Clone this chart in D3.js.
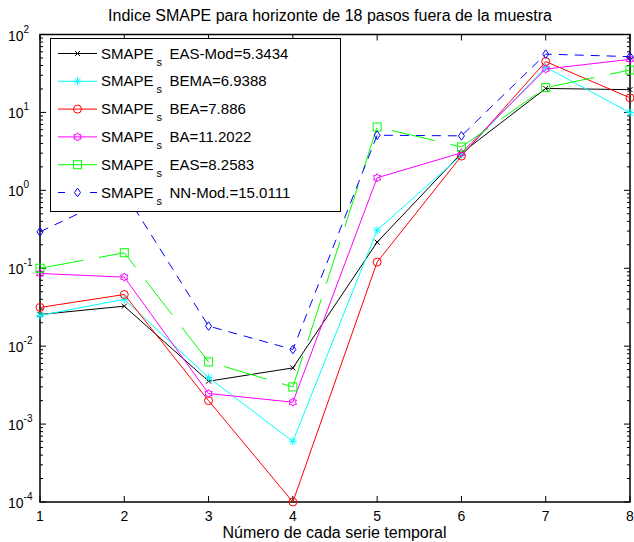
<!DOCTYPE html>
<html>
<head>
<meta charset="utf-8">
<script src="https://cdn.jsdelivr.net/npm/d3@7"></script>
<style>
  body { margin: 0; background: #fff; }
  svg { font-family: "Liberation Sans", Arial, sans-serif; }
</style>
</head>
<body>
<svg width="634" height="542"></svg>
<script>
// series number on the x axis
const series = [1, 2, 3, 4, 5, 6, 7, 8];

// SMAPE values
const easMod = [0.0255, 0.0326, 0.00355, 0.00526, 0.216, 3.0, 20.3, 19.6];
const bema = [0.0248, 0.040, 0.00396, 0.0006, 0.308, 2.83, 38, 9.9];
const bea = [0.0314, 0.046, 0.0020, 0.0001, 0.12, 2.75, 45, 15.4];
const ba = [0.0857, 0.0769, 0.00247, 0.00191, 1.45, 3.03, 36, 48];
const eas = [0.100, 0.158, 0.00628, 0.0030, 6.5, 3.6, 20.8, 35];
const nnMod = [0.294, 0.95, 0.0181, 0.00906, 5.1, 5.0, 56, 52];

const legendNames = ['EAS-Mod=5.3434', 'BEMA=6.9388', 'BEA=7.886', 'BA=11.2022', 'EAS=8.2583', 'NN-Mod.=15.0111'];
const yTicks = [1e-4, 1e-3, 1e-2, 1e-1, 1e0, 1e1, 1e2];

const lines = [
  { name: legendNames[0], values: easMod, color: '#000000', dash: null, marker: 'x' },
  { name: legendNames[1], values: bema, color: '#00ffff', dash: null, marker: 'star' },
  { name: legendNames[2], values: bea, color: '#ff0000', dash: null, marker: 'circle' },
  { name: legendNames[3], values: ba, color: '#ff00ff', dash: null, marker: 'hex' },
  { name: legendNames[4], values: eas, color: '#00ff00', dash: '44,16', marker: 'square' },
  { name: legendNames[5], values: nnMod, color: '#0000ff', dash: '9,7', marker: 'diamond' },
];

const svg = d3.select('svg');
const plotLeft = 40, plotRight = 630, plotTop = 34.5, plotBottom = 502;

const x = d3.scaleLinear().domain([1, 8]).range([plotLeft, plotRight]);
const y = d3.scaleLog().domain([1e-4, 1e2]).range([plotBottom, plotTop]);

// draws one marker centred on (0,0)
const drawMarker = (g, kind, color) => {
  if (kind === 'x') {
    g.append('path').attr('d', 'M-2.5,-2.5L2.5,2.5M-2.5,2.5L2.5,-2.5')
      .attr('stroke', color).attr('stroke-width', 1).attr('fill', 'none');
  } else if (kind === 'star') {
    g.append('path').attr('d', 'M-4,0L4,0M0,-4L0,4M-3,-3L3,3M-3,3L3,-3')
      .attr('stroke', color).attr('stroke-width', 1).attr('fill', 'none');
  } else if (kind === 'circle') {
    g.append('circle').attr('r', 4)
      .attr('stroke', color).attr('stroke-width', 1).attr('fill', 'none');
  } else if (kind === 'hex') {
    const pts = d3.range(12).map((i) => {
      const a = (Math.PI / 6) * i - Math.PI / 2;
      const r = i % 2 === 0 ? 4.2 : 2.6;
      return [r * Math.cos(a), r * Math.sin(a)];
    });
    g.append('polygon').attr('points', pts.map((p) => p.join(',')).join(' '))
      .attr('stroke', color).attr('stroke-width', 1).attr('fill', 'none');
  } else if (kind === 'square') {
    g.append('rect').attr('x', -4).attr('y', -4).attr('width', 8).attr('height', 8)
      .attr('stroke', color).attr('stroke-width', 1).attr('fill', 'none');
  } else if (kind === 'diamond') {
    g.append('path').attr('d', 'M0,-4.3L3,0L0,4.3L-3,0Z')
      .attr('stroke', color).attr('stroke-width', 1).attr('fill', 'none');
  }
};

// title
svg.append('text').attr('x', 330).attr('y', 21).attr('text-anchor', 'middle')
  .attr('font-size', 16).text('Indice SMAPE para horizonte de 18 pasos fuera de la muestra');

// x label
svg.append('text').attr('x', 334.5).attr('y', 538).attr('text-anchor', 'middle')
  .attr('font-size', 16).text('Número de cada serie temporal');

// axes frame
const axisG = svg.append('g');
axisG.append('rect').attr('x', plotLeft).attr('y', plotTop)
  .attr('width', plotRight - plotLeft).attr('height', plotBottom - plotTop)
  .attr('fill', 'none').attr('stroke', '#000').attr('stroke-width', 1.5);

// x ticks top and bottom, inward
series.forEach((s) => {
  axisG.append('line').attr('x1', x(s)).attr('x2', x(s)).attr('y1', plotBottom).attr('y2', plotBottom - 6)
    .attr('stroke', '#000');
  axisG.append('line').attr('x1', x(s)).attr('x2', x(s)).attr('y1', plotTop).attr('y2', plotTop + 6)
    .attr('stroke', '#000');
  axisG.append('text').attr('x', x(s)).attr('y', 521).attr('text-anchor', 'middle')
    .attr('font-size', 14).text(s);
});

// y ticks, major and minor, both sides
yTicks.forEach((t, i) => {
  [[plotLeft, 1], [plotRight, -1]].forEach(([xx, dir]) => {
    axisG.append('line').attr('x1', xx).attr('x2', xx + dir * 6).attr('y1', y(t)).attr('y2', y(t))
      .attr('stroke', '#000');
    if (i < yTicks.length - 1) {
      for (let m = 2; m <= 9; m++) {
        axisG.append('line').attr('x1', xx).attr('x2', xx + dir * 3)
          .attr('y1', y(t * m)).attr('y2', y(t * m)).attr('stroke', '#000');
      }
    }
  });
  const exp = Math.round(Math.log10(t));
  const lab = axisG.append('text').attr('x', 8).attr('y', y(t) + 6).attr('font-size', 14);
  lab.append('tspan').text('10');
  lab.append('tspan').attr('dy', -8).attr('font-size', 10).text(exp);
});

// series lines and markers
const lineGen = d3.line().x((d) => x(d[0])).y((d) => y(d[1]));
lines.forEach((ln) => {
  const pts = series.map((s, i) => [s, ln.values[i]]);
  svg.append('path').datum(pts).attr('d', lineGen)
    .attr('fill', 'none').attr('stroke', ln.color).attr('stroke-width', 1)
    .attr('stroke-dasharray', ln.dash);
  pts.forEach((p) => {
    const g = svg.append('g').attr('transform', `translate(${x(p[0])},${y(p[1])})`);
    drawMarker(g, ln.marker, ln.color);
  });
});

// legend
const leg = svg.append('g');
leg.append('rect').attr('x', 50.5).attr('y', 38.5).attr('width', 290).attr('height', 173)
  .attr('fill', '#fff').attr('stroke', '#000').attr('stroke-width', 1);
lines.forEach((ln, i) => {
  const yy = 53.5 + i * 27.8;
  // the blue dashed sample shows only a short dash either side of the marker
  const segs = ln.dash === '9,7' ? [[58, 65], [90, 97]] : [[58, 97]];
  segs.forEach(([a, b]) => {
    leg.append('line').attr('x1', a).attr('x2', b).attr('y1', yy).attr('y2', yy)
      .attr('stroke', ln.color).attr('stroke-width', 1);
  });
  drawMarker(leg.append('g').attr('transform', `translate(77.5,${yy})`), ln.marker, ln.color);
  const t = leg.append('text').attr('y', yy + 5).attr('font-size', 15);
  t.append('tspan').attr('x', 101).text('SMAPE');
  t.append('tspan').attr('x', 156.5).attr('dy', 7).attr('font-size', 11).text('s');
  t.append('tspan').attr('x', 169.5).attr('dy', -7).text(ln.name);
});
</script>
</body>
</html>
